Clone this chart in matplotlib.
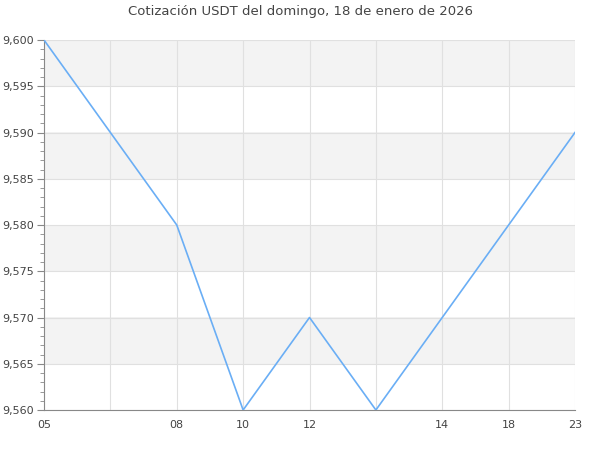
import matplotlib
matplotlib.use("Agg")
import matplotlib.pyplot as plt
from matplotlib.ticker import FuncFormatter, MultipleLocator

labels = ["05", "", "08", "10", "12", "", "14", "18", "23"]
values = [9.600, 9.590, 9.580, 9.560, 9.570, 9.560, 9.570, 9.580, 9.590]
title = "Cotización USDT del domingo, 18 de enero de 2026"

fig = plt.figure(figsize=(6, 4.5), dpi=100)
ax = fig.add_axes([44/600, 1-410/450, (575-44)/600, (410-40)/450])

x = list(range(len(values)))
ax.plot(x, values, color="#6aaef5", lw=1.2, zorder=3)

ymin, ymax = 9.560, 9.600
ax.set_ylim(ymin, ymax)
ax.set_xlim(0, len(values) - 1)

# alternating bands
step = 0.005
i = 0
y = ymin
while y < ymax - 1e-9:
    if i % 2 == 1:
        ax.axhspan(y, y + step, color="#f3f3f3", lw=0, zorder=0)
    y += step
    i += 1

ax.yaxis.set_major_locator(MultipleLocator(0.005))
ax.yaxis.set_minor_locator(MultipleLocator(0.001))
ax.yaxis.set_major_formatter(FuncFormatter(lambda v, p: f"{v:.3f}".replace(".", ",")))
ax.set_xticks(x)
ax.set_xticklabels(labels)

ax.grid(True, which="major", color="#e0e0e0", lw=0.8, zorder=1)
ax.set_axisbelow(True)

for s in ["top", "right"]:
    ax.spines[s].set_visible(False)
for s in ["left", "bottom"]:
    ax.spines[s].set_color("#888888")

ax.tick_params(axis="y", which="major", length=5, color="#888888", labelsize=8, labelcolor="#444444", pad=2)
ax.tick_params(axis="y", which="minor", length=3, color="#888888")
ax.tick_params(axis="x", which="major", length=0, labelsize=8, labelcolor="#444444", pad=7)

fig.suptitle(title, fontsize=9.5, color="#444444", y=0.99)

fig.savefig("out.png", dpi=100)
